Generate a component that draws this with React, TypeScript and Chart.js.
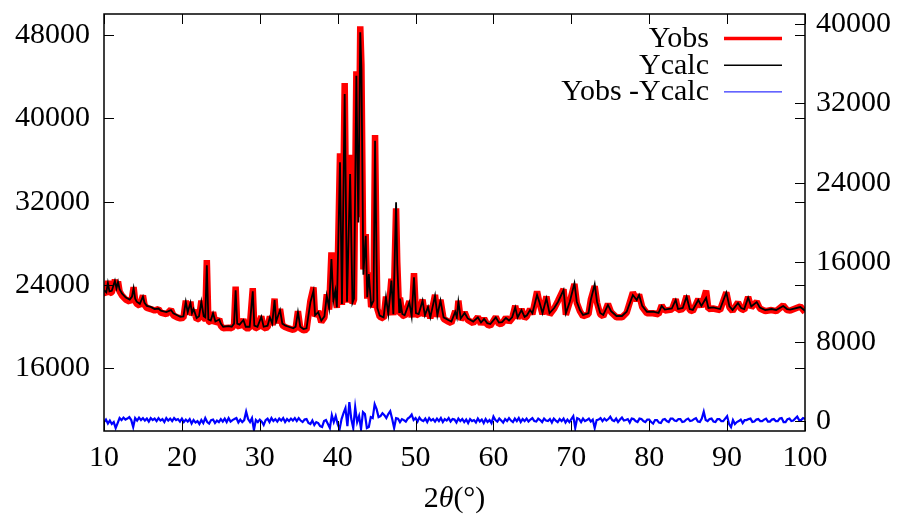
import { useEffect, useRef } from "react";
import { Chart, registerables } from "chart.js";

Chart.register(...registerables);

// ---------- data ----------
const X_TICKS = [10, 20, 30, 40, 50, 60, 70, 80, 90, 100];
const LEFT_TICKS = [16000, 24000, 32000, 40000, 48000];
const RIGHT_TICKS = [0, 8000, 16000, 24000, 32000, 40000];

const twoTheta = [
  10.0, 10.3, 10.5, 10.7, 11.0, 11.4, 11.6, 11.8, 12.0, 12.3, 12.8, 13.3, 13.6, 13.8, 14.0, 14.2, 14.6, 15.0, 15.2, 15.5,
  16.0, 16.5, 17.0, 17.3, 18.0, 18.6, 18.9, 19.4, 19.8, 20.2, 20.5, 20.75, 21.1, 21.3, 21.5, 21.9, 22.2, 22.5, 22.8, 23.0,
  23.2, 23.4, 23.7, 24.0, 24.3, 24.8, 25.0, 25.3, 26.0, 26.4, 26.7, 26.9, 27.1, 27.4, 27.9, 28.2, 28.7, 29.1, 29.3, 29.7,
  30.2, 30.5, 31.0, 31.3, 31.6, 31.9, 32.1, 32.6, 32.9, 33.3, 33.7, 34.3, 34.6, 34.9, 35.2, 35.6, 36.0, 36.5, 36.9, 37.1,
  37.5, 37.9, 38.3, 38.6, 38.9, 39.2, 39.45, 39.7, 39.9, 40.3, 40.55, 40.9, 41.2, 41.6, 41.9, 42.1, 42.4, 42.65, 42.9, 43.05,
  43.3, 43.6, 43.8, 44.0, 44.3, 44.6, 44.8, 45.0, 45.1, 45.4, 45.9, 46.2, 46.5, 46.9, 47.15, 47.5, 47.65, 47.9, 48.0, 48.3,
  48.6, 49.2, 49.5, 49.8, 50.05, 50.4, 50.9, 51.2, 51.6, 51.9, 52.5, 52.8, 53.2, 53.6, 54.2, 54.6, 55.1, 55.3, 55.5, 55.8,
  56.3, 56.7, 57.4, 58.0, 58.4, 58.8, 59.2, 59.6, 60.3, 60.7, 61.1, 61.6, 62.0, 62.4, 62.8, 63.1, 63.6, 64.0, 64.3, 64.7,
  65.0, 65.6, 65.9, 66.3, 66.8, 67.2, 67.8, 68.3, 69.0, 69.3, 69.8, 70.4, 70.7, 71.1, 71.5, 72.2, 72.5, 73.0, 73.3, 73.7,
  74.1, 74.7, 75.1, 75.8, 76.5, 77.1, 77.9, 78.4, 78.7, 79.1, 79.7, 80.5, 81.2, 81.6, 82.0, 82.9, 83.4, 83.7, 84.3, 84.8,
  85.2, 85.6, 86.3, 86.7, 87.3, 87.6, 88.2, 89.1, 89.9, 90.3, 90.7, 91.4, 91.8, 92.2, 92.7, 93.1, 93.8, 94.2, 94.9, 95.7,
  96.3, 97.2, 97.7, 98.1, 99.4, 100.0,
];

const yCalc = [
  23500, 23300, 24200, 23400, 23450, 24400, 23700, 24300, 23600, 23200, 22800, 22600, 22900, 23700, 22700, 22400, 22200, 22900, 22300, 22000,
  21900, 21700, 21750, 21550, 21400, 21600, 21300, 21100, 20960, 21000, 22400, 21400, 22300, 21300, 21700, 20840, 21000, 22400, 21000, 20900,
  25900, 20700, 20600, 21300, 20500, 20700, 20300, 20000, 20050, 20000, 20300, 23500, 20300, 20200, 20650, 20000, 20000, 23400, 20100, 20000,
  20960, 20000, 20100, 20900, 20300, 22570, 20500, 21600, 20300, 20100, 20000, 19850, 20000, 21400, 20000, 19780, 19850, 22340, 23460, 21100,
  21400, 20580, 21000, 22980, 21800, 26500, 22500, 23460, 21860, 35780, 22180, 42320, 22400, 34650, 22300, 22700, 44080, 30000, 48240, 44720,
  25000, 28730, 22830, 25060, 22020, 22500, 37850, 26000, 21800, 21060, 20900, 22830, 21200, 24420, 21200, 31930, 26000, 21400, 22700, 21220,
  21100, 22340, 21000, 24740, 21300, 21220, 22500, 21100, 21900, 20900, 22980, 21100, 22500, 20900, 20650, 20500, 21440, 20900, 22400, 20800,
  21320, 20800, 20490, 20900, 20400, 20740, 20350, 20260, 20900, 20400, 20450, 20840, 20600, 20900, 21860, 20900, 21600, 20950, 21100, 21600,
  21300, 23050, 22370, 21320, 22730, 21300, 21800, 22400, 23520, 21300, 22400, 24160, 22400, 21600, 21130, 21300, 22570, 24070, 22400, 21320,
  21130, 22090, 21500, 21030, 21030, 21440, 23050, 22570, 23050, 22000, 21440, 21440, 21320, 21990, 21650, 21750, 22570, 21700, 21800, 22880,
  21700, 21610, 22570, 22000, 22760, 21800, 21850, 21700, 23280, 21950, 21610, 22280, 21800, 21700, 22780, 21950, 22370, 21850, 21600, 21700,
  21610, 21990, 21700, 21650, 21890, 21540,
];

const yObs = [
  23350, 23100, 24400, 23200, 23300, 24500, 23500, 24350, 23400, 23000, 22600, 22400, 22800, 23800, 22500, 22200, 22000, 23000, 22100, 21800,
  21700, 21550, 21700, 21350, 21200, 21650, 21100, 20900, 20800, 20850, 22500, 21200, 22400, 21100, 21600, 20700, 20800, 22500, 20800, 20750,
  26400, 20550, 20400, 21400, 20300, 20750, 20100, 19850, 19900, 19850, 20200, 23850, 20150, 20000, 20700, 19850, 19850, 23700, 19950, 19850,
  21000, 19850, 19950, 21000, 20150, 22700, 20350, 21700, 20150, 19950, 19850, 19700, 19850, 21500, 19850, 19650, 19700, 22500, 23780, 21000,
  21500, 20450, 20900, 23100, 21650, 27140, 22400, 23600, 21800, 36640, 22100, 43380, 22300, 36500, 22200, 22600, 44500, 30500, 48820, 45200,
  25500, 28900, 22700, 25200, 21900, 22400, 38390, 26500, 21700, 20950, 20800, 22900, 21100, 24600, 21100, 31360, 26200, 21300, 22800, 21100,
  21000, 22450, 20900, 25130, 21200, 21100, 22600, 21000, 22000, 20800, 23050, 20950, 22600, 20750, 20500, 20350, 21500, 20800, 22500, 20650,
  21400, 20650, 20350, 20950, 20250, 20800, 20200, 20100, 20950, 20250, 20300, 20900, 20450, 20800, 22000, 20800, 21700, 20800, 21000, 21700,
  21200, 23400, 22300, 21200, 22900, 21150, 21750, 22500, 23600, 21150, 22400, 24100, 22300, 21500, 21000, 21200, 22600, 23900, 22300, 21200,
  21000, 22200, 21400, 20900, 20900, 21350, 23300, 22500, 23100, 21900, 21300, 21300, 21200, 22050, 21550, 21650, 22650, 21600, 21700, 22950,
  21600, 21500, 22650, 21900, 23460, 21700, 21750, 21600, 23300, 21850, 21500, 22350, 21700, 21600, 22850, 21850, 22400, 21750, 21500, 21600,
  21500, 22050, 21600, 21550, 21950, 21400,
];

// Yobs - Ycalc, read every 0.25 degree from 10 to 100
const DIFF_START = 10;
const DIFF_STEP = 0.25;
const yDiff = [
  -100, 150, -250, 50, -300, -100, -700, -200, 300, 100, 350, 150, 250, 400, 100, -600, 300, 50, 350, 100,
  300, 50, 250, -50, 300, 100, 250, 0, 300, 50, 200, -100, 300, 50, 250, 0, 300, 100, 200, -50,
  250, -100, 150, -50, 200, -250, 100, -150, 0, -300, 100, -200, 300, -100, -250, 100, 150, -200, 50, -100,
  200, -50, 250, -100, 300, -50, 100, 200, 300, -150, 150, -100, 100, 950, 200, -100, 300, -900, 100, -100,
  150, -50, -400, 100, 250, -100, 300, 0, 200, -50, 250, 50, 300, -100, 200, 0, 250, 50, 300, 0,
  300, 50, -100, 150, 200, -200, -300, 50, -400, -100, -200, -500, -600, 0, 100, -300, -700, 600, -100, 500,
  -300, -800, 200, 800, 1300, -500, 1900, 200, -700, 1400, -100, 500, -800, 900, 700, -700, -600, 400, 300, 1700,
  1200, 400, 500, 800, 600, 300, 700, 1000, 200, -700, 300, 250, -100, 200, 100, -50, 250, 400, 650, 100,
  300, -50, 350, 100, 0, 250, -100, 300, 50, 200, -50, 250, 0, 300, -100, 200, 50, 300, -50, 200,
  150, -150, 250, 0, 200, -100, 150, -200, 200, 0, 100, -150, 250, -50, 150, -200, 200, -100, 100, -200,
  450, 100, -50, 250, 50, -150, 200, 0, 300, 50, -100, 250, 0, 300, -100, 200, 0, 250, -50, 150,
  300, 0, -50, 250, 100, -100, 250, 50, 0, 200, -150, 250, 50, -100, 200, 0, 250, -150, 150, -100,
  200, 500, -700, 300, 200, -100, 250, 0, 100, 250, -50, 150, -700, 100, 150, 300, 0, 250, 50, 200,
  450, 100, 0, 250, -100, 150, 350, 50, 100, 200, -150, 250, 200, 0, -100, 250, 200, 0, -100, 150,
  150, -100, -250, 100, 100, -150, -200, 150, 200, 0, -100, 250, 250, 50, 0, 200, 200, -100, -50, 150,
  250, 0, 50, 200, 300, -50, -100, 250, 950, 100, 0, 200, 250, -50, -100, 200, 200, 0, 0, 250,
  500, -300, -600, 100, -300, -100, 0, 150, -200, 100, 100, 200, 250, -100, -50, 150, 200, 0, 0, 150,
  250, -50, -50, 150, 200, 0, 0, 250, 300, -100, -100, 200, 250, 0, 50, 250, 450, 100, 100, 300,
  200,
];

const LEGEND_LABELS = ["Yobs", "Ycalc", "Yobs -Ycalc"];
const COLORS = ["#ff0000", "#000000", "#0000ff"];
const X_TITLE = ["2", "θ", "(°)"];

const FONT_FAMILY = '"Liberation Serif", "DejaVu Serif", serif';
const FONT_SIZE = 30;

const decorPlugin = {
  id: "decor",
  afterDraw(chart: any) {
    const { ctx, chartArea } = chart;
    const { left, right, top, bottom } = chartArea;
    const xs = chart.scales.x;
    const ys = chart.scales.y;
    const y2 = chart.scales.y2;
    ctx.save();
    ctx.strokeStyle = "#000";
    ctx.lineWidth = 1.5;
    ctx.strokeRect(left, top, right - left, bottom - top);
    ctx.lineWidth = 1;
    const TL = 10;
    ctx.beginPath();
    X_TICKS.forEach((v) => {
      const px = Math.round(xs.getPixelForValue(v)) + 0.5;
      ctx.moveTo(px, bottom);
      ctx.lineTo(px, bottom - TL);
      ctx.moveTo(px, top);
      ctx.lineTo(px, top + TL);
    });
    LEFT_TICKS.forEach((v) => {
      const py = Math.round(ys.getPixelForValue(v)) + 0.5;
      ctx.moveTo(left, py);
      ctx.lineTo(left + TL, py);
      ctx.moveTo(right, py);
      ctx.lineTo(right - TL, py);
    });
    RIGHT_TICKS.forEach((v) => {
      const py = Math.round(y2.getPixelForValue(v)) + 0.5;
      ctx.moveTo(right, py);
      ctx.lineTo(right - TL, py);
    });
    ctx.stroke();

    // legend
    ctx.font = `${FONT_SIZE}px ${FONT_FAMILY}`;
    ctx.fillStyle = "#000";
    ctx.textAlign = "right";
    ctx.textBaseline = "alphabetic";
    const widths = [3.5, 1.5, 1];
    LEGEND_LABELS.forEach((lab, i) => {
      const base = top + 33 + i * 26.7;
      ctx.fillText(lab, right - 96, base);
      ctx.beginPath();
      ctx.strokeStyle = COLORS[i];
      ctx.lineWidth = widths[i];
      const ly = base - 8.5;
      ctx.moveTo(right - 81, ly);
      ctx.lineTo(right - 23, ly);
      ctx.stroke();
    });

    // x title: 2θ(°) with italic theta
    const fN = `${FONT_SIZE}px ${FONT_FAMILY}`;
    const fI = `italic ${FONT_SIZE}px ${FONT_FAMILY}`;
    ctx.textAlign = "left";
    ctx.font = fN;
    const w0 = ctx.measureText(X_TITLE[0]).width;
    const w2 = ctx.measureText(X_TITLE[2]).width;
    ctx.font = fI;
    const w1 = ctx.measureText(X_TITLE[1]).width;
    const total = w0 + w1 + w2;
    let tx = (left + right) / 2 - total / 2;
    const ty = bottom + 76;
    ctx.font = fN;
    ctx.fillText(X_TITLE[0], tx, ty);
    tx += w0;
    ctx.font = fI;
    ctx.fillText(X_TITLE[1], tx, ty);
    tx += w1;
    ctx.font = fN;
    ctx.fillText(X_TITLE[2], tx, ty);
    ctx.restore();
  },
};

export default function App() {
  const ref = useRef<HTMLCanvasElement | null>(null);

  useEffect(() => {
    document.body.style.margin = "0";
    const canvas = ref.current;
    if (!canvas) return;
    const calcPts = twoTheta.map((x, i) => ({ x, y: yCalc[i] }));
    const obsPts = twoTheta.map((x, i) => ({ x, y: yObs[i] }));
    const diffPts = yDiff.map((y, i) => ({ x: DIFF_START + i * DIFF_STEP, y }));
    const font = { family: FONT_FAMILY, size: FONT_SIZE };
    const noGrid = { display: false, drawTicks: false, tickLength: 0 };
    const fitV = (w: number) => (s: any) => {
      s.width = w;
      s.paddingTop = 0;
      s.paddingBottom = 0;
    };

    const chart = new Chart(canvas, {
      type: "line",
      data: {
        datasets: [
          {
            label: "Yobs",
            data: obsPts,
            borderColor: COLORS[0],
            borderWidth: 6.5,
            borderJoinStyle: "bevel",
            pointRadius: 0,
            yAxisID: "y",
            order: 2,
          },
          {
            label: "Ycalc",
            data: calcPts,
            borderColor: COLORS[1],
            borderWidth: 1.8,
            pointRadius: 0,
            yAxisID: "y",
            order: 1,
          },
          {
            label: "Yobs -Ycalc",
            data: diffPts,
            borderColor: COLORS[2],
            borderWidth: 2.2,
            pointRadius: 0,
            yAxisID: "y2",
            order: 0,
          },
        ],
      },
      options: {
        responsive: false,
        animation: false,
        parsing: false as any,
        layout: { autoPadding: false, padding: { top: 14, left: 0, right: 0, bottom: 0 } },
        plugins: { legend: { display: false }, tooltip: { enabled: false } },
        scales: {
          x: {
            type: "linear",
            position: "bottom",
            min: 10,
            max: 100,
            grid: noGrid,
            border: { display: false },
            afterBuildTicks: (s: any) => {
              s.ticks = X_TICKS.map((v) => ({ value: v }));
            },
            afterFit: (s: any) => {
              s.height = 85;
              s.paddingLeft = 0;
              s.paddingRight = 0;
            },
            ticks: { font, color: "#000", padding: 9, maxRotation: 0, autoSkip: false },
          },
          y: {
            type: "linear",
            position: "left",
            min: 10000,
            max: 50000,
            grid: noGrid,
            border: { display: false },
            afterBuildTicks: (s: any) => {
              s.ticks = LEFT_TICKS.map((v) => ({ value: v }));
            },
            afterFit: fitV(104),
            ticks: { font, color: "#000", padding: 14, callback: (v: any) => String(v) },
          },
          y2: {
            type: "linear",
            position: "right",
            min: -1000,
            max: 41000,
            grid: noGrid,
            border: { display: false },
            afterBuildTicks: (s: any) => {
              s.ticks = RIGHT_TICKS.map((v) => ({ value: v }));
            },
            afterFit: fitV(92),
            ticks: { font, color: "#000", padding: 11, callback: (v: any) => String(v) },
          },
        },
      },
      plugins: [decorPlugin],
    });
    return () => chart.destroy();
  }, []);

  return (
    <div style={{ width: 897, height: 516 }}>
      <canvas ref={ref} width={897} height={516} />
    </div>
  );
}
